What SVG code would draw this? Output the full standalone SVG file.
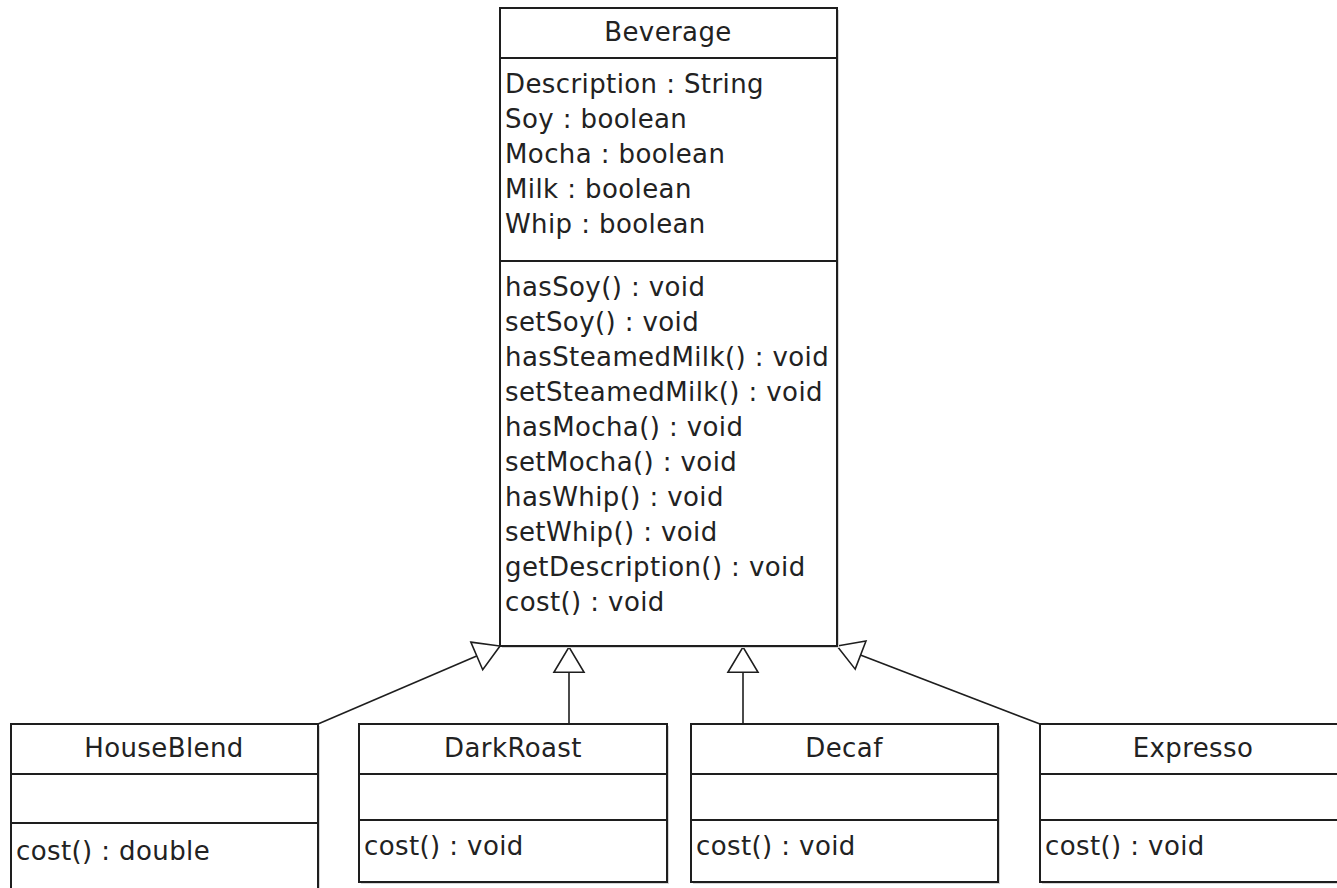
<svg xmlns="http://www.w3.org/2000/svg" width="1337" height="888" viewBox="0 0 1337 888">
  <style>
    .box { fill: #ffffff; stroke: #1e1e1e; stroke-width: 2; }
    .shadow { fill: #d4d4d4; }
    .div { stroke: #1e1e1e; stroke-width: 2; }
    .t { font-family: "DejaVu Sans", "Liberation Sans", sans-serif; font-size: 26px; letter-spacing: 0.4px; fill: #222222; }
    .title { text-anchor: middle; }
    .edge { fill: none; stroke: #1e1e1e; stroke-width: 1.6; }
  </style>
  <defs>
    <marker id="inherit" markerUnits="userSpaceOnUse" markerWidth="30" markerHeight="34" viewBox="-2 -2 30 35" refX="26" refY="15.5" orient="auto">
      <path d="M0,0 L26,15.5 L0,31 Z" fill="#ffffff" stroke="#1e1e1e" stroke-width="1.6"/>
    </marker>
  </defs>
  <rect width="1337" height="888" fill="#ffffff"/>

  <!-- Generalization links -->
  <g id="connectors">
    <path class="edge" d="M318,724 L500,646" marker-end="url(#inherit)"/>
    <path class="edge" d="M569,724 L569,647" marker-end="url(#inherit)"/>
    <path class="edge" d="M743,724 L743,647" marker-end="url(#inherit)"/>
    <path class="edge" d="M1040,724 L837,646" marker-end="url(#inherit)"/>
  </g>

  <!-- Beverage -->
  <g id="beverage">
    <rect class="shadow" x="502" y="10" width="337" height="638"/>
    <rect class="box" x="500" y="8" width="337" height="638"/>
    <line class="div" x1="500" y1="58" x2="837" y2="58"/>
    <line class="div" x1="500" y1="261" x2="837" y2="261"/>
    <text class="t title" x="668" y="41">Beverage</text>
    <text class="t" x="505" y="93">Description : String</text>
    <text class="t" x="505" y="128">Soy : boolean</text>
    <text class="t" x="505" y="163">Mocha : boolean</text>
    <text class="t" x="505" y="198">Milk : boolean</text>
    <text class="t" x="505" y="233">Whip : boolean</text>
    <text class="t" x="505" y="296">hasSoy() : void</text>
    <text class="t" x="505" y="331">setSoy() : void</text>
    <text class="t" x="505" y="366">hasSteamedMilk() : void</text>
    <text class="t" x="505" y="401">setSteamedMilk() : void</text>
    <text class="t" x="505" y="436">hasMocha() : void</text>
    <text class="t" x="505" y="471">setMocha() : void</text>
    <text class="t" x="505" y="506">hasWhip() : void</text>
    <text class="t" x="505" y="541">setWhip() : void</text>
    <text class="t" x="505" y="576">getDescription() : void</text>
    <text class="t" x="505" y="611">cost() : void</text>
  </g>

  <!-- HouseBlend -->
  <g id="houseblend">
    <rect class="shadow" x="13" y="726" width="307" height="180"/>
    <rect class="box" x="11" y="724" width="307" height="180"/>
    <line class="div" x1="11" y1="774" x2="318" y2="774"/>
    <line class="div" x1="11" y1="823" x2="318" y2="823"/>
    <text class="t title" x="164" y="757">HouseBlend</text>
    <text class="t" x="16" y="860">cost() : double</text>
  </g>

  <!-- DarkRoast -->
  <g id="darkroast">
    <rect class="shadow" x="361" y="726" width="308" height="158"/>
    <rect class="box" x="359" y="724" width="308" height="158"/>
    <line class="div" x1="359" y1="774" x2="667" y2="774"/>
    <line class="div" x1="359" y1="820" x2="667" y2="820"/>
    <text class="t title" x="513" y="757">DarkRoast</text>
    <text class="t" x="364" y="855">cost() : void</text>
  </g>

  <!-- Decaf -->
  <g id="decaf">
    <rect class="shadow" x="693" y="726" width="307" height="158"/>
    <rect class="box" x="691" y="724" width="307" height="158"/>
    <line class="div" x1="691" y1="774" x2="998" y2="774"/>
    <line class="div" x1="691" y1="820" x2="998" y2="820"/>
    <text class="t title" x="844" y="757">Decaf</text>
    <text class="t" x="696" y="855">cost() : void</text>
  </g>

  <!-- Expresso -->
  <g id="expresso">
    <rect class="shadow" x="1042" y="726" width="307" height="158"/>
    <rect class="box" x="1040" y="724" width="307" height="158"/>
    <line class="div" x1="1040" y1="774" x2="1347" y2="774"/>
    <line class="div" x1="1040" y1="820" x2="1347" y2="820"/>
    <text class="t title" x="1193" y="757">Expresso</text>
    <text class="t" x="1045" y="855">cost() : void</text>
  </g>
</svg>
